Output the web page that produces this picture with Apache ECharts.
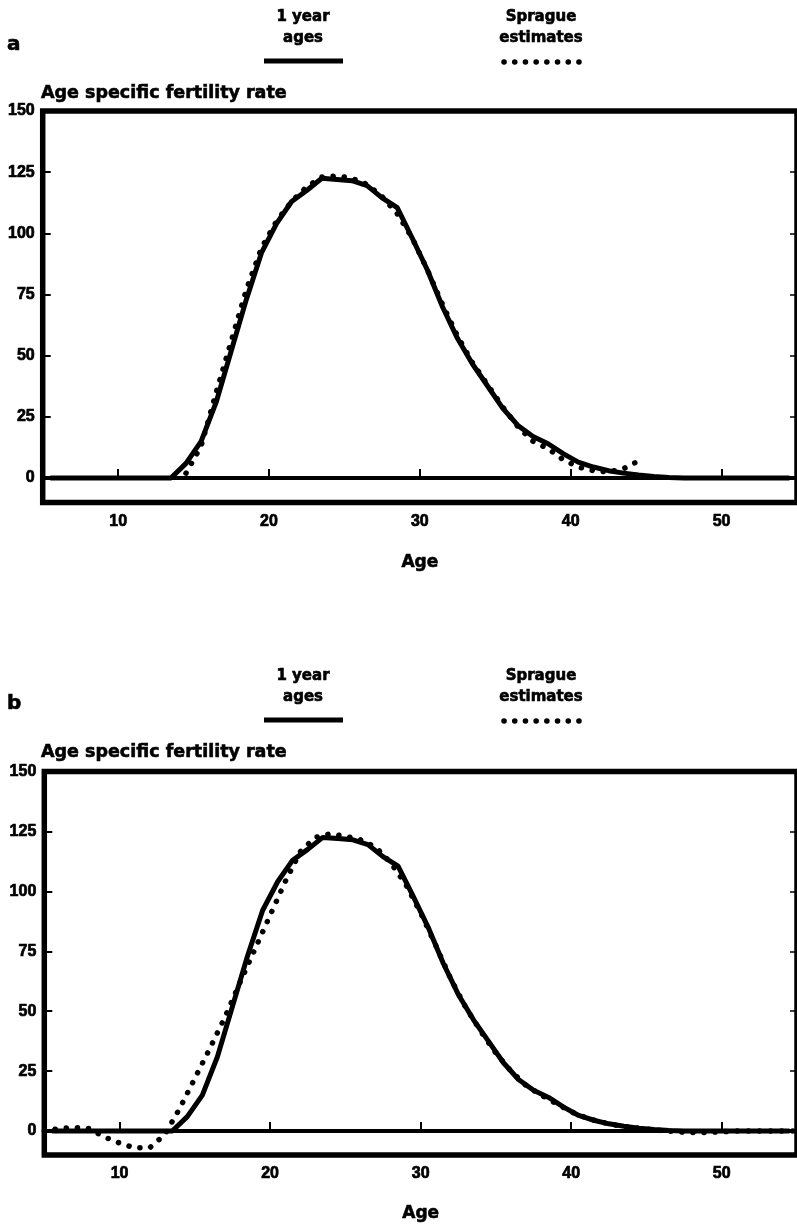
<!DOCTYPE html>
<html><head><meta charset="utf-8">
<script src="https://cdn.jsdelivr.net/npm/echarts@6/dist/echarts.min.js"></script>
<style>html,body{margin:0;padding:0;background:#fff}#c{width:797px;height:1225px}</style>
</head><body><div id="c"></div>
<script>
// ---- data ----
const oneYearAges = [5.5,6.5,7.5,8.5,9.5,10.5,11.5,12.5,13.5,14.5,15.5,16.5,17.5,18.5,19.5,20.5,21.5,22.5,23.5,24.5,25.5,26.5,27.5,28.5,29.5,30.5,31.5,32.5,33.5,34.5,35.5,36.5,37.5,38.5,39.5,40.5,41.5,42.5,43.5,44.5,45.5,46.5,47.5,48.5,49.5,50.5,51.5,52.5,53.5,54.5];
const oneYearRate = [0,0,0,0,0,0,0,0,0,6,15,31,52,73,92,104,113,117.5,122.5,122,121.5,119.5,114.5,110.5,98,85,70,57,46.5,37.5,28.5,21.5,17,14,10,6.5,4.5,3,2,1.2,0.6,0.2,0,0,0,0,0,0,0,0];
const spragueAgesA = [14.5,15.5,16.5,17.5,18.5,19.5,20.5,21.5,22.5,23.5,24.5,25.5,26.5,27.5,28.5,29.5,30.5,31.5,32.5,33.5,34.5,35.5,36.5,37.5,38.5,39.5,40.5,41.5,42.5,43.5,44.5];
const spragueRateA = [2,13,35,56,77,94,105,113,119,123,123.5,122.5,120,115,108,98,85,71,58,47,38,29,21,15,12,7.5,4.5,3,2.5,3.8,7];
const spragueAgesB = [5,6,7,8,9,10,11,12,13,14,15,16,17,18,19,20,21,22,23,24,25,26,27,28,29,30,31,32,33,34,35,36,37,38,39,40,41,42,43,44,45,46,47,48,49,50,51,52,53,54,55];
const spragueRateB = [0,1,1.5,1,-2.5,-5,-7,-7,-1.5,9.5,22,34.5,47.5,62,76,90,104,116.5,122.5,124,123,121.5,118.5,112,103,91,77.5,63.5,51.5,41.5,32.5,25,19,15,11.5,8,5.5,3.7,2.4,1.5,0.8,0.2,-0.3,-0.6,-0.6,-0.3,0,0,0,0,0];
const xTicks = [10,20,30,40,50];
const yTicks = [0,25,50,75,100,125,150];
const panels = ['a','b'];
const legendSolid = ['1 year','ages'];
const legendDotted = ['Sprague','estimates'];
const yTitle = 'Age specific fertility rate';
const xTitle = 'Age';

const pairs = (xs, ys) => xs.map((x,i)=>[x, ys[i]]);
const numFont = {fontFamily:'Liberation Sans', fontWeight:'bold', fontSize:16, color:'#000', textBorderColor:'#000', textBorderWidth:0.7};
const wordFont = 'DejaVu Sans';

const grids = [
  {left:42.7, top:111, width:756, height:391.5, show:true, borderColor:'#000', borderWidth:5.5},
  {left:44.3, top:771.5, width:757, height:383.5, show:true, borderColor:'#000', borderWidth:5.5}
];
const xAxes = grids.map((g,i)=>({
  type:'value', gridIndex:i, min:5, max:55, position:'bottom',
  axisLine:{show:false},
  axisTick:{show:true, inside:true, length:9, lineStyle:{color:'#000', width:2}, customValues:xTicks},
  axisLabel:Object.assign({margin:11, customValues:xTicks}, numFont),
  splitLine:{show:false},
  name:xTitle, nameLocation:'middle', nameGap:[52,50][i],
  nameTextStyle:{fontFamily:wordFont, fontWeight:'bold', fontSize:17, color:'#000', textBorderColor:'#000', textBorderWidth:0.6}
}));
const yAxes = [];
grids.forEach((g,i)=>{
  yAxes.push({type:'value', gridIndex:i, min:-10, max:150, position:'left',
    axisLine:{show:false},
    axisTick:{show:true, inside:true, length:8, lineStyle:{color:'#000', width:2}, customValues:yTicks},
    axisLabel:Object.assign({margin:8, customValues:yTicks}, numFont),
    splitLine:{show:false}});
  yAxes.push({type:'value', gridIndex:i, min:-10, max:150, position:'right',
    axisLine:{show:false},
    axisTick:{show:true, inside:true, length:7, lineStyle:{color:'#000', width:1.5}, customValues:yTicks},
    axisLabel:{show:false}, splitLine:{show:false}});
});

const series = [];
[[spragueAgesA, spragueRateA],[spragueAgesB, spragueRateB]].forEach((sp,i)=>{
  series.push({type:'line', xAxisIndex:i, yAxisIndex:i*2, data:pairs(oneYearAges, oneYearRate),
    symbol:'none', lineStyle:{color:'#000', width:5, join:'round'}, z:3,
    markLine:{silent:true, symbol:'none', label:{show:false},
      lineStyle:{color:'#000', width:4, type:'solid'}, data:[{yAxis:0}]}});
  series.push({type:'line', xAxisIndex:i, yAxisIndex:i*2, data:pairs(sp[0], sp[1]),
    symbol:'none', lineStyle:{color:'#000', width:5.5, type:[0.1,11], cap:'round'}, z:4});
});

const graphic = [];
[0, 659].forEach((dy,i)=>{
  const t = (x,y,text,size,align)=>({type:'text', x:x, y:y+dy, style:{text:text, fontFamily:wordFont, fontWeight:'bold', fontSize:size, fill:'#000', stroke:'#000', lineWidth:0.6, align:align||'center', verticalAlign:'middle'}});
  graphic.push(t(7, 45, panels[i], 20, 'left'));
  graphic.push(t(303, 17, legendSolid[0], 15));
  graphic.push(t(303, 38, legendSolid[1], 15));
  graphic.push(t(541, 17, legendDotted[0], 15));
  graphic.push(t(541, 38, legendDotted[1], 15));
  graphic.push(t(41, 93, yTitle, 17.5, 'left'));
  graphic.push({type:'line', shape:{x1:264, y1:61+dy, x2:343, y2:61+dy}, style:{stroke:'#000', lineWidth:5}});
  graphic.push({type:'line', shape:{x1:504, y1:62+dy, x2:579, y2:62+dy}, style:{stroke:'#000', lineWidth:5.5, lineDash:[0.1,10.6], lineCap:'round'}});
});

const chart = echarts.init(document.getElementById('c'), null, {renderer:'canvas'});
chart.setOption({animation:false, backgroundColor:'#fff', grid:grids, xAxis:xAxes, yAxis:yAxes, series:series, graphic:graphic});
</script></body></html>
